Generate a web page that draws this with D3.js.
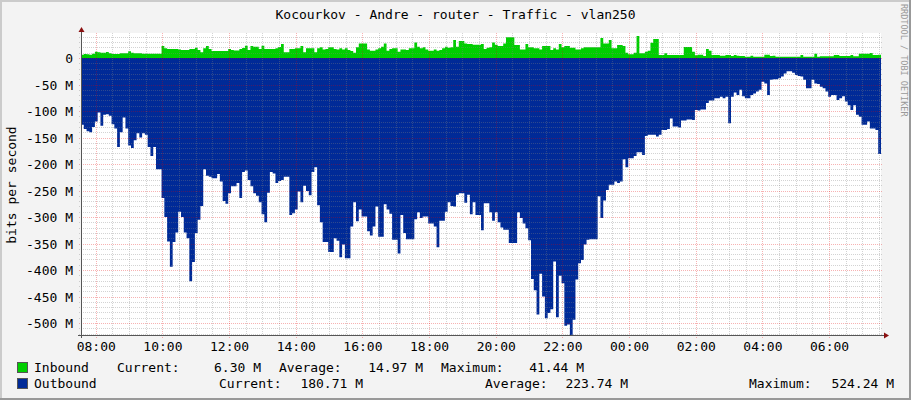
<!DOCTYPE html>
<html><head><meta charset="utf-8">
<script src="https://cdn.jsdelivr.net/npm/d3@7/dist/d3.min.js"></script>
<style>
body{margin:0;background:#f3f3f3}
svg{display:block}
text{font-family:'DejaVu Sans Mono',monospace}
</style>
</head><body><svg id="chart" width="911" height="400"></svg>
<script>
// ---------------- data ----------------
const chartTitle = "Kocourkov - Andre - router - Traffic - vlan250";
const yAxisTitle = "bits per second";
const watermark = "RRDTOOL / TOBI OETIKER";
const startTime = new Date(2020, 0, 1, 7, 33, 30);
const stepMinutes = 5;
const seriesNames = ["Inbound", "Outbound"];

// inbound traffic, M bits/s, one value per 5 minutes (plotted upward)
const inbound = [
 6.3,7.5,7,6.3,8.2,12,11,10,10,11.3, 8.8,7.5,7.5,7.5,8.8,8.8,8.8,12.6,10,8.8,
 8.8,8.8,8.2,8.2,8.2,8.2,8.2,8.2,8.2,22.6, 18.2,17,17,17,17,16,15,15,15,17,
 17,19.5,15,10.7,18.2,22.6,17,13.2,13.2,13.2, 13.2,13.2,13.2,17,15,14,14,17,19,23.2,
 15,22.6,21.4,21.4,17,23.2,17,17,17,17, 18.2,21,
 26.4,10.7,10.7,17,17,18.2,18.2,22.6,10.7,18.2, 18.2,18.2,10.7,18.2,20.1,16.3,17,20.1,20.1,17,
 16.3,18.2,16.3,18.2,15,13.2,10,20.1,27.6,27.6, 27.6,16.3,13.8,13.8,16.3,18.2,21.4,27.6,13.8,17,
 18.2,18.2,11.9,16.3,16.3,15,18.2,18.2,29.5,21.4, 18.2,20.1,16.3,13.8,13.8,16.3,13.8,15,18.2,21.4,
 19.5,20.1,33.9,21.4,32,32,27.6,26.4,26.4,25.1, 25.1,25.1,
 26.4,17,19.5,20.1,29.5,25,22.6,22.6,27.6,39, 39,39,24.5,24.5,16.3,16.3,26.4,20.1,20.1,18.2,
 18.2,16.3,22.6,22.6,22.6,15,18.2,16.3,26.4,20.1, 22.6,22.6,19.5,19.5,16.3,16.3,18.2,20.1,20.1,20.1,
 20.1,20.1,20.1,37.7,27.6,27.6,33.9,18.2,18.2,24.5, 24.5,22.6,10,6.9,6.9,10,41.5,8.8,8.8,11.9,
 13.8,28.9,35.8,35.8,5.7,5.7,8.8,5.7,5.7,5.7, 5.7,5.7,
 5.7,20.7,20.7,20.7,12,5,6.3,6.3,3.8,17, 13.8,5.7,5.7,5.7,4.4,4.4,5.7,5.7,3.8,5.5,
 4.4,3.8,3.8,2.5,2.5,4.4,2.5,2.5,2.5,2.5, 6.3,6.3,3.8,4.4,2.5,2.5,2.5,2.5,2.5,2.5,
 2.5,2.5,2.5,5.7,2.5,2.5,2.5,2.5,8.2,2.5, 3.1,3.1,3.1,3.1,3.1,5.7,5.7,3.8,3.8,3.8,
 3.8,5.7,3.1,3.1,8.2,8.2,8.2,8.2,9.4,5.7, 5.7,6.3
];

// outbound traffic, M bits/s, one value per 5 minutes (plotted downward)
const outbound = [
 126,134,138,140,130,120,103,128,107,106, 109,125,133,168,140,112,133,165,170,155,
 142,150,142,145,168,185,168,210,210,264, 300,346,394,347,329,290,300,329,340,421,
 385,330,305,279,210,222,224,227,227,219, 233,270,275,255,242,242,236,264,215,212,
 230,242,255,260,272,295,310,254,215,218, 236,232,230,224,224,296,293,
 286,252,272,241,251,259,215,206,278,310, 347,347,366,366,340,345,376,352,378,378,
 318,272,308,286,299,299,327,335,318,280, 337,337,276,286,294,343,343,369,296,330,
 342,342,342,304,291,302,299,299,312,312, 318,357,307,307,290,272,279,280,258,255,
 255,273,258,295,272,296,296,325,274,274, 291,307,291,310,320,324,324,
 349,349,349,291,302,312,321,344,417,438, 484,407,450,491,481,474,384,489,411,425,
 505,503,524,494,418,387,381,352,343,342, 342,342,261,302,269,249,239,239,233,236,
 233,191,206,189,189,185,178,178,183,147, 145,145,145,148,145,136,136,134,114,129,
 129,131,118,118,116,116,117,98,99,97, 97,85,80,80,76,76,73,76,
 73,123,73,65,70,60,72,76,76,70, 67,63,60,45,48,70,41,40,40,38,
 35,29,25,25,28,32,34,35,41,57, 57,41,48,49,54,57,63,73,70,70,
 79,76,72,82,89,98,89,107,111,126, 126,120,133,133,136,181
];

const yTickValues = [0,-50,-100,-150,-200,-250,-300,-350,-400,-450,-500];
const yTickLabels = ["0","-50 M","-100 M","-150 M","-200 M","-250 M","-300 M","-350 M","-400 M","-450 M","-500 M"];
const statLabels = ["Current:", "Average:", "Maximum:"];
const inboundStats = ["6.30 M", "14.97 M", "41.44 M"];
const outboundStats = ["180.71 M", "223.74 M", "524.24 M"];

// ---------------- drawing ----------------
const W = 911, H = 400;
const plot = {left: 81, right: 881, top: 33, bottom: 335};
const colIn = "#00CF00", colOut = "#002A97";
const svg = d3.select("#chart");

svg.append("rect").attr("width", W).attr("height", H).attr("fill", "#f3f3f3");
// 3D shade border
svg.append("rect").attr("x",0).attr("y",0).attr("width",W).attr("height",2).attr("fill","#cbcbcb");
svg.append("rect").attr("x",0).attr("y",0).attr("width",2).attr("height",H).attr("fill","#cbcbcb");
svg.append("rect").attr("x",0).attr("y",H-2).attr("width",W).attr("height",2).attr("fill","#999999");
svg.append("rect").attr("x",W-2).attr("y",0).attr("width",2).attr("height",H).attr("fill","#999999");

const endTime = d3.timeMinute.offset(startTime, 24*60);
const x = d3.scaleTime().domain([startTime, endTime]).range([plot.left, plot.right]);
const y = d3.scaleLinear().domain([-522.6, 47.2]).range([plot.bottom, plot.top]);

// canvas
svg.append("rect").attr("x", plot.left).attr("y", plot.top)
  .attr("width", plot.right - plot.left).attr("height", plot.bottom - plot.top).attr("fill", "#ffffff");

const tOf = i => d3.timeMinute.offset(startTime, i*stepMinutes);
const withEnd = arr => arr.map((v,i)=>({t:tOf(i), v})).concat([{t:endTime, v:arr[arr.length-1]}]);

const areaOut = d3.area().curve(d3.curveStepAfter)
  .x(d => x(d.t)).y0(y(0)).y1(d => y(-d.v));
const areaIn = d3.area().curve(d3.curveStepAfter)
  .x(d => x(d.t)).y0(y(0)).y1(d => y(d.v));

svg.append("path").datum(withEnd(outbound)).attr("d", areaOut).attr("fill", colOut);
svg.append("path").datum(withEnd(inbound)).attr("d", areaIn).attr("fill", colIn);

// grid (drawn over the data like rrdtool)
const grid = svg.append("g");
const minorY = d3.range(-520, 47, 10).filter(v => v % 50 !== 0);
grid.selectAll(".gy").data(minorY).join("line")
  .attr("x1", plot.left - 2).attr("x2", plot.right + 2)
  .attr("y1", d => Math.round(y(d)) + 0.5).attr("y2", d => Math.round(y(d)) + 0.5)
  .attr("stroke", "rgba(128,128,128,0.35)").attr("stroke-dasharray", "1,1");
const minorX = d3.timeMinute.every(30).range(startTime, endTime).filter(t => t.getMinutes() !== 0 || t.getHours() % 2 !== 0);
grid.selectAll(".gx").data(minorX).join("line")
  .attr("y1", plot.top).attr("y2", plot.bottom + 2)
  .attr("x1", d => Math.round(x(d)) + 0.5).attr("x2", d => Math.round(x(d)) + 0.5)
  .attr("stroke", "rgba(128,128,128,0.35)").attr("stroke-dasharray", "1,1");
grid.selectAll(".my").data(yTickValues).join("line")
  .attr("x1", plot.left - 2).attr("x2", plot.right + 2)
  .attr("y1", d => Math.round(y(d)) + 0.5).attr("y2", d => Math.round(y(d)) + 0.5)
  .attr("stroke", "rgba(230,0,0,0.3)").attr("stroke-dasharray", "1,1");
const majorX = d3.timeHour.every(2).range(startTime, endTime);
grid.selectAll(".mx").data(majorX).join("line")
  .attr("y1", plot.top).attr("y2", plot.bottom + 3)
  .attr("x1", d => Math.round(x(d)) + 0.5).attr("x2", d => Math.round(x(d)) + 0.5)
  .attr("stroke", "rgba(230,0,0,0.3)").attr("stroke-dasharray", "1,1");

// axes
svg.append("line").attr("x1", plot.left + 0.5).attr("x2", plot.left + 0.5)
  .attr("y1", plot.top - 2).attr("y2", plot.bottom + 3).attr("stroke", "#555");
svg.append("line").attr("x1", plot.left - 3).attr("x2", plot.right + 4)
  .attr("y1", plot.bottom + 0.5).attr("y2", plot.bottom + 0.5).attr("stroke", "#555");
svg.append("path").attr("d", `M${plot.left-2.5},${plot.top-1}L${plot.left+3.5},${plot.top-1}L${plot.left+0.5},${plot.top-6}Z`).attr("fill", "#8b1010");
svg.append("path").attr("d", `M${plot.right+3},${plot.bottom-2.5}L${plot.right+3},${plot.bottom+3.5}L${plot.right+8},${plot.bottom+0.5}Z`).attr("fill", "#8b1010");

// axis labels via d3 axis generators
const fontSize = "13px";
const yAxis = d3.axisLeft(y).tickValues(yTickValues).tickSize(0).tickPadding(0)
  .tickFormat((d,i) => yTickLabels[i]);
const gy = svg.append("g").attr("transform", `translate(${73},0)`).call(yAxis);
gy.select(".domain").remove();
gy.selectAll("text").attr("font-size", fontSize).attr("fill", "#000").attr("font-family", "'DejaVu Sans Mono',monospace").attr("dy", "0.36em");

const xAxis = d3.axisBottom(x).tickValues(majorX).tickSize(0).tickPadding(0)
  .tickFormat(d3.timeFormat("%H:%M"));
const gx = svg.append("g").attr("transform", `translate(0,${341})`).call(xAxis);
gx.select(".domain").remove();
gx.selectAll("text").attr("font-size", fontSize).attr("fill", "#000").attr("font-family", "'DejaVu Sans Mono',monospace").attr("dy", "0.75em");

// title
svg.append("text").attr("x", W/2).attr("y", 19).attr("text-anchor", "middle")
  .attr("font-size", fontSize).attr("fill", "#000").text(chartTitle);
// y axis title
svg.append("text").attr("transform", "translate(16,185) rotate(-90)").attr("text-anchor", "middle")
  .attr("font-size", fontSize).attr("fill", "#000").text(yAxisTitle);
// watermark
svg.append("text").attr("transform", "translate(901,4) rotate(90)").attr("text-anchor", "start")
  .attr("font-size", "8.5px").attr("fill", "#999").text(watermark);

// legend
const legendRows = [
  {name: seriesNames[0], color: colIn, stats: inboundStats, y: 372,
   labelX: [117, 279, 441], valueEnd: [261, 423, 584]},
  {name: seriesNames[1], color: colOut, stats: outboundStats, y: 388,
   labelX: [219, 485, 749], valueEnd: [363, 628, 894]}
];
legendRows.forEach(r => {
  svg.append("rect").attr("x", 17.5).attr("y", r.y - 9.5).attr("width", 10).attr("height", 10)
    .attr("fill", r.color).attr("stroke", "#555").attr("stroke-width", 1);
  svg.append("text").attr("x", 34).attr("y", r.y).attr("font-size", fontSize).attr("fill", "#000").text(r.name);
  statLabels.forEach((lab, i) => {
    svg.append("text").attr("x", r.labelX[i]).attr("y", r.y).attr("font-size", fontSize).attr("fill", "#000").text(lab);
    svg.append("text").attr("x", r.valueEnd[i]).attr("y", r.y).attr("text-anchor", "end").attr("font-size", fontSize).attr("fill", "#000").text(r.stats[i]);
  });
});
</script>
</body></html>
